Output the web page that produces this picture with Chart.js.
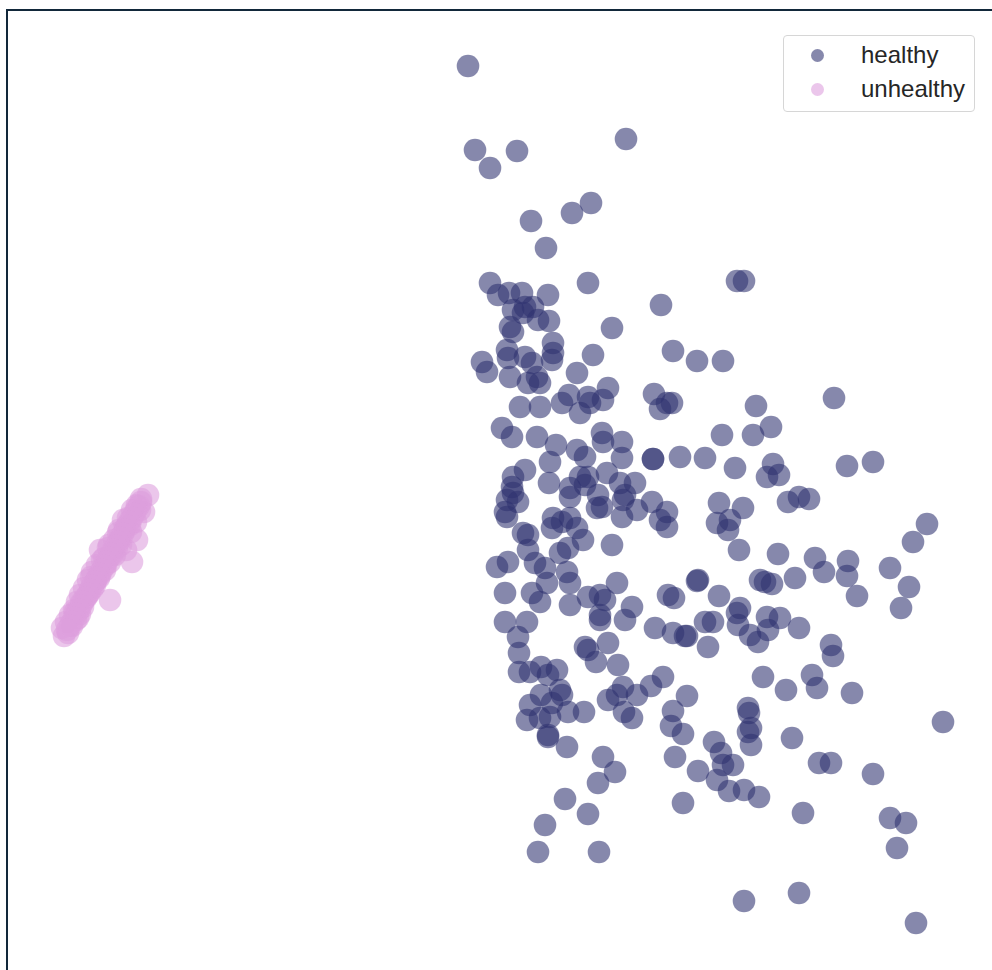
<!DOCTYPE html>
<html>
<head>
<meta charset="utf-8">
<script src="https://cdn.jsdelivr.net/npm/chart.js@4/dist/chart.umd.min.js"></script>
<style>
  html, body { margin: 0; padding: 0; background: #ffffff; overflow: hidden; }
  #wrap { position: relative; width: 992px; height: 970px; overflow: hidden; }
  #chart { display: block; }
  #legend {
    position: absolute; left: 783px; top: 35px; width: 190px; height: 75px;
    background: #ffffff; border: 1px solid #d6d6d6; border-radius: 4px;
    font-family: "Liberation Sans", Arial, sans-serif; font-size: 24px; color: #262626;
  }
  .row { position: absolute; left: 0; height: 30px; line-height: 30px; }
  .dot { position: absolute; left: 27px; top: 8px; width: 13px; height: 13px; border-radius: 50%; }
  .lbl { position: absolute; left: 77px; top: -1px; white-space: nowrap; }
</style>
</head>
<body>
<div id="wrap">
  <canvas id="chart" width="992" height="970"></canvas>
  <div id="legend">
    <div class="row" style="top:5px"><span class="dot" style="background:rgba(47,50,112,0.58)"></span><span class="lbl">healthy</span></div>
    <div class="row" style="top:39px"><span class="dot" style="background:rgba(221,160,221,0.6)"></span><span class="lbl">unhealthy</span></div>
  </div>
</div>
<script>
// values (embedding units, y grows downward)
const healthyX = [
  468,475,490,517,626,531,572,591,546,490,588,737,744,498,509,522,548,661,513,525,
  533,523,538,549,510,513,612,553,507,508,525,532,553,552,482,487,510,528,537,540,
  577,593,673,697,723,520,540,562,569,580,588,590,603,608,654,660,667,672,756,834,
  502,512,537,556,577,585,602,603,622,622,653,653,680,705,722,753,771,735,773,767,
  779,847,873,550,549,525,513,512,513,507,518,505,507,570,570,580,585,588,607,598,
  602,597,620,625,623,635,637,622,652,667,660,667,553,552,562,570,577,583,568,560,
  612,523,528,528,535,545,497,508,567,547,570,532,540,570,588,600,605,600,617,632,
  625,505,505,527,518,655,668,674,698,719,743,717,730,728,788,799,809,927,913,739,
  778,815,824,848,847,857,890,909,901,697,760,765,772,795,719,740,737,705,713,687,
  738,750,758,767,780,768,799,708,831,833,763,812,786,817,852,687,748,673,671,683,
  749,751,748,751,943,675,714,721,723,733,698,717,729,744,759,683,792,819,831,873,
  803,890,906,897,744,799,916,600,673,685,519,519,530,541,548,557,585,588,608,596,
  618,663,651,623,608,617,637,624,632,541,552,560,562,568,584,530,527,540,550,548,
  548,567,603,615,598,565,588,545,538,599
];
const healthyY = [
  66,150,168,151,139,221,213,203,248,283,283,281,281,295,293,293,295,305,310,307,
  307,313,320,321,327,332,328,343,350,358,357,363,353,360,362,372,377,383,377,383,
  373,355,351,361,361,407,407,403,395,413,397,403,400,388,394,409,403,403,406,398,
  428,437,437,445,450,457,433,442,442,458,459,459,457,458,435,435,427,468,464,477,
  475,466,462,462,483,470,477,487,493,500,502,512,517,488,497,477,485,477,473,495,
  507,508,483,495,500,483,510,517,502,512,520,527,518,528,522,518,528,540,548,553,
  545,533,535,550,563,568,567,562,572,583,583,593,602,605,597,595,600,615,583,607,
  620,593,622,622,637,628,595,598,580,503,508,523,520,530,502,497,499,524,542,550,
  554,558,572,561,576,596,568,587,608,581,580,582,584,578,596,608,613,622,622,636,
  625,635,642,617,618,630,628,647,645,656,677,675,690,688,693,696,708,711,726,734,
  713,728,732,745,722,757,742,753,765,765,771,780,791,790,797,803,738,763,763,774,
  813,818,823,848,901,893,923,620,633,636,653,672,672,667,675,670,647,650,643,662,
  665,677,686,687,700,695,695,712,718,695,703,690,695,712,712,705,720,718,717,735,
  737,747,757,772,783,799,814,825,852,852
];
const unhealthyX = [
  148,141,137,144,132,128,136,123,125,131,118,137,114,121,108,126,115,100,104,110,
  132,97,105,92,99,88,95,84,90,80,110,86,77,83,74,80,70,76,66,72,
  62,68,64,78,93,100,112,120,130,140,106,88,75,117,96,119,109,102,91,81,
  141,139,136,134,132,129,127,125,123,120,118,116,113,111,109,106,104,102,99,97,
  95,92,90,88,85,83,81,79,76,74,72,70,67
];
const unhealthyY = [
  495,499,505,512,510,518,522,520,528,532,533,540,540,545,548,550,555,550,558,562,
  562,565,570,572,578,580,585,588,592,595,600,598,602,607,610,614,615,620,622,626,
  628,633,636,618,588,575,555,540,525,510,565,595,612,548,580,530,545,560,577,603,
  502,506,510,514,518,522,526,530,534,538,542,546,550,554,558,562,566,570,574,578,
  582,586,590,594,598,602,606,610,614,618,622,626,630
];

const healthyColor = 'rgba(47, 50, 112, 0.58)';
const unhealthyColor = 'rgba(221, 160, 221, 0.6)';

function toPoints(xs, ys) {
  return xs.map((x, i) => ({ x: x, y: ys[i] }));
}

// left and top spines of the plot
const spinesPlugin = {
  id: 'spines',
  afterDraw(chart) {
    const { ctx, chartArea } = chart;
    ctx.save();
    ctx.strokeStyle = '#12283a';
    ctx.lineWidth = 2;
    ctx.beginPath();
    ctx.moveTo(chartArea.left - 1, chartArea.bottom + 5);
    ctx.lineTo(chartArea.left - 1, chartArea.top - 1);
    ctx.lineTo(chartArea.right + 5, chartArea.top - 1);
    ctx.stroke();
    ctx.restore();
  }
};

const ctx = document.getElementById('chart').getContext('2d');
new Chart(ctx, {
  type: 'scatter',
  data: {
    datasets: [
      {
        label: 'unhealthy',
        data: toPoints(unhealthyX, unhealthyY),
        backgroundColor: unhealthyColor,
        borderWidth: 0,
        pointRadius: 11.3,
        order: 2
      },
      {
        label: 'healthy',
        data: toPoints(healthyX, healthyY),
        backgroundColor: healthyColor,
        borderWidth: 0,
        pointRadius: 11.3,
        order: 1
      }
    ]
  },
  options: {
    responsive: false,
    animation: false,
    layout: { autoPadding: false, padding: { left: 8, top: 11, right: 0, bottom: 0 } },
    scales: {
      x: { display: false, min: 8, max: 992 },
      y: { display: false, min: 11, max: 970, reverse: true }
    },
    plugins: {
      legend: { display: false },
      tooltip: { enabled: false }
    }
  },
  plugins: [spinesPlugin]
});
</script>
</body>
</html>
